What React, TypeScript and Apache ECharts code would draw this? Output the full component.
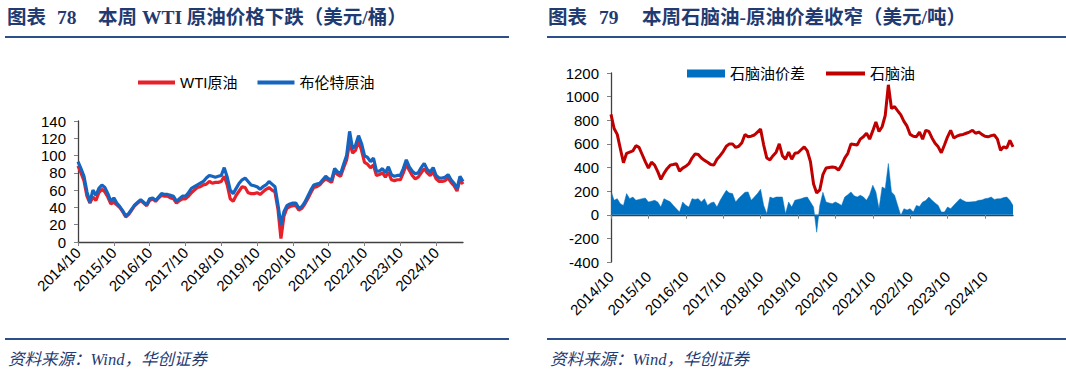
import React, { useEffect, useRef } from "react";
import * as echarts from "echarts";

// Monthly categories, 2014/10 .. 2025/07
const START_YEAR = 2014;
const START_MONTH = 10;
const N_POINTS = 130;
const MONTHS: string[] = [];
{
  let y = START_YEAR;
  let m = START_MONTH;
  for (let i = 0; i < N_POINTS; i++) {
    MONTHS.push(`${y}/${m < 10 ? "0" + m : m}`);
    m++;
    if (m > 12) { m = 1; y++; }
  }
}

// 图表78: WTI 与 布伦特 (美元/桶)
const WTI: number[] = [
  88, 80, 71, 53, 45, 52, 48, 57, 61, 58,
  52, 44, 46, 43, 40, 35, 29, 32, 37, 42,
  45, 48, 45, 42, 48, 50, 47, 51, 54, 53,
  53, 51, 50, 45, 48, 50, 50, 53, 57, 60,
  63, 64, 66, 67, 70, 68, 69, 69, 70, 76,
  66, 50, 47, 54, 59, 64, 63, 57, 56, 56,
  57, 55, 58, 61, 63, 60, 58, 38, 4, 30,
  39, 41, 42, 42, 37, 39, 44, 50, 57, 63,
  64, 66, 70, 73, 71, 69, 82, 78, 76, 86,
  95, 115, 103, 106, 117, 106, 92, 90, 86, 89,
  77, 78, 80, 75, 81, 72, 71, 72, 72, 80,
  90, 83, 77, 73, 75, 80, 85, 80, 77, 81,
  73, 70, 70, 71, 74, 69, 65, 59, 72, 67,
];
const BRENT: number[] = [
  93, 85, 76, 58, 46, 60, 54, 62, 66, 63,
  56, 47, 51, 45, 41, 36, 30, 33, 38, 43,
  46, 49, 46, 43, 50, 51, 48, 52, 56, 55,
  55, 54, 53, 47, 50, 53, 53, 57, 62, 64,
  66, 68, 70, 74, 77, 76, 75, 76, 77, 86,
  75, 60, 56, 62, 68, 72, 74, 70, 66, 65,
  64, 61, 64, 66, 70, 67, 64, 43, 20, 35,
  42, 44, 45, 45, 39, 41, 46, 53, 60, 66,
  67, 68, 72, 76, 73, 72, 85, 81, 79, 90,
  100, 128, 108, 112, 123, 114, 100, 98, 93, 97,
  82, 82, 85, 80, 87, 78, 76, 77, 77, 85,
  95, 87, 82, 79, 80, 86, 91, 84, 81, 86,
  77, 74, 74, 75, 78, 72, 68, 62, 76, 70,
];

// 图表79: 石脑油 与 石脑油价差 (美元/吨)
const NAPHTHA: number[] = [
  850, 730, 680, 560, 440, 520, 530, 540, 585, 570,
  510, 450, 395, 445, 420, 365, 300, 350, 390, 420,
  425, 432, 370, 395, 410, 432, 480, 515, 510, 480,
  460, 445, 425, 420, 470, 500, 535, 580, 600, 600,
  570, 580, 610, 680, 660, 665, 675, 700, 725, 590,
  480, 465, 500, 530, 600, 500, 470, 530, 470, 520,
  525, 550, 575, 540, 450, 260, 185, 210, 340, 395,
  400, 405, 400, 378, 420, 480, 520, 600, 595, 590,
  640, 660, 690, 640, 710, 785, 705, 745, 840, 1100,
  900, 915, 880, 845, 790, 750, 680, 665, 660, 700,
  640, 715, 705, 650, 605, 575, 525, 590, 660, 715,
  650, 665, 675, 680, 690, 700, 715, 690, 700, 680,
  665, 660, 670, 675, 640, 545, 575, 565, 630, 575,
];
const SPREAD: number[] = [
  199, 122, 136, 94, 79, 179, 136, 150, 122, 130,
  136, 142, 108, 115, 122, 108, 65, 136, 122, 110,
  79, 50, 23, 108, 80, 65, 136, 130, 136, 108,
  136, 79, 100, 108, 65, 120, 165, 207, 185, 179,
  108, 140, 165, 190, 193, 122, 150, 179, 216, 79,
  9, 150, 140, 150, 150, 150, 9, 108, 65, 122,
  130, 136, 145, 150, 108, 65, -148, 79, 190, 108,
  100, 94, 108, 95, 79, 150, 170, 193, 160, 150,
  165, 150, 122, 170, 250, 193, 51, 235, 221, 434,
  193, 165, 79, -6, 51, 40, 51, 23, 79, 70,
  108, 120, 150, 122, 100, 79, 23, 23, 65, 51,
  80, 108, 136, 120, 108, 108, 110, 113, 122, 125,
  136, 140, 150, 130, 135, 136, 145, 150, 122, 79,
];

const TITLE_LEFT_A = "图表";
const TITLE_LEFT_NO = "78";
const TITLE_LEFT = "本周 WTI 原油价格下跌（美元/桶）";
const TITLE_RIGHT_A = "图表";
const TITLE_RIGHT_NO = "79";
const TITLE_RIGHT = "本周石脑油-原油价差收窄（美元/吨）";
const SOURCE = "资料来源：Wind，华创证券";

const NAVY = "#1f3b72";
const RULE = "#2b4f8a";
const AXIS_COLOR = "#404040";
const SANS = "Liberation Sans, Arial, Noto Sans CJK SC, sans-serif";
const SERIF = "Liberation Serif, Noto Sans CJK SC, serif";

const titleStyle = (text: string) => ({
  text,
  fontSize: 19.5,
  fontWeight: "bold",
  fontFamily: SERIF,
  fill: NAVY,
  verticalAlign: "middle",
});
const footStyle = (text: string) => ({
  text,
  fontSize: 16.5,
  fontStyle: "italic",
  fontFamily: SERIF,
  fill: NAVY,
  verticalAlign: "middle",
});

export default function App() {
  const ref = useRef<HTMLDivElement>(null);

  useEffect(() => {
    if (!ref.current) return;
    const chart = echarts.init(ref.current, undefined, { renderer: "svg" });

    const axisLine = { show: true, lineStyle: { color: AXIS_COLOR, width: 1.3 } };
    const tickStyle = { color: "#808080", width: 1 };
    const xLabel = {
      interval: 11,
      rotate: 45,
      fontSize: 15,
      color: "#000",
      fontFamily: SANS,
    };

    chart.setOption({
      animation: false,
      grid: [
        { left: 78, top: 121, width: 385, height: 121, containLabel: false },
        { left: 611, top: 73, width: 402, height: 189, containLabel: false },
      ],
      xAxis: [
        {
          type: "category",
          gridIndex: 0,
          data: MONTHS,
          boundaryGap: false,
          axisLine,
          axisTick: { show: true, interval: 11, length: 4, lineStyle: tickStyle },
          axisLabel: { ...xLabel, margin: 8 },
        },
        {
          type: "category",
          gridIndex: 1,
          data: MONTHS,
          boundaryGap: false,
          position: "bottom",
          axisLine: { ...axisLine, onZero: true },
          axisTick: { show: true, interval: 11, length: 4, lineStyle: tickStyle },
          axisLabel: { show: false },
        },
        {
          type: "category",
          gridIndex: 1,
          data: MONTHS,
          boundaryGap: false,
          position: "bottom",
          axisLine: { show: false, onZero: false },
          axisTick: { show: false },
          axisLabel: { ...xLabel, margin: 12 },
        },
      ],
      yAxis: [
        {
          type: "value",
          gridIndex: 0,
          min: 0,
          max: 140,
          interval: 20,
          splitLine: { show: false },
          axisLine,
          axisTick: { show: true, length: 4, lineStyle: tickStyle },
          axisLabel: { fontSize: 15, color: "#000", fontFamily: SANS, margin: 12, formatter: (v: number) => String(v) },
        },
        {
          type: "value",
          gridIndex: 1,
          min: -400,
          max: 1200,
          interval: 200,
          splitLine: { show: false },
          axisLine,
          axisTick: { show: true, length: 4, lineStyle: tickStyle },
          axisLabel: { fontSize: 15, color: "#000", fontFamily: SANS, margin: 12, formatter: (v: number) => String(v) },
        },
      ],
      legend: [
        {
          left: 133,
          top: 70,
          icon: "rect",
          itemWidth: 37,
          itemHeight: 4,
          itemGap: 20,
          data: ["WTI原油", "布伦特原油"],
          textStyle: { fontSize: 15, color: "#000", fontFamily: SANS },
        },
        {
          left: 682,
          top: 61,
          icon: "rect",
          itemWidth: 38,
          itemHeight: 8,
          data: ["石脑油价差"],
          textStyle: { fontSize: 15, color: "#000", fontFamily: SANS },
        },
        {
          left: 821,
          top: 61,
          icon: "rect",
          itemWidth: 39,
          itemHeight: 4,
          data: ["石脑油"],
          textStyle: { fontSize: 15, color: "#000", fontFamily: SANS },
        },
      ],
      series: [
        {
          name: "WTI原油",
          type: "line",
          xAxisIndex: 0,
          yAxisIndex: 0,
          data: WTI,
          showSymbol: false,
          lineStyle: { width: 3.2, color: "#e8202a" },
          itemStyle: { color: "#e8202a" },
        },
        {
          name: "布伦特原油",
          type: "line",
          xAxisIndex: 0,
          yAxisIndex: 0,
          data: BRENT,
          showSymbol: false,
          lineStyle: { width: 3.2, color: "#1565c0" },
          itemStyle: { color: "#1565c0" },
        },
        {
          name: "石脑油价差",
          type: "line",
          xAxisIndex: 1,
          yAxisIndex: 1,
          data: SPREAD,
          showSymbol: false,
          lineStyle: { width: 0.5, color: "#0070c0" },
          areaStyle: { color: "#0070c0", opacity: 1, origin: 0 },
          itemStyle: { color: "#0070c0" },
        },
        {
          name: "石脑油",
          type: "line",
          xAxisIndex: 1,
          yAxisIndex: 1,
          data: NAPHTHA,
          showSymbol: false,
          lineStyle: { width: 3, color: "#c00000" },
          itemStyle: { color: "#c00000" },
        },
      ],
      graphic: [
        { type: "text", x: 7, y: 17, style: titleStyle(TITLE_LEFT_A) },
        { type: "text", x: 57, y: 17, style: titleStyle(TITLE_LEFT_NO) },
        { type: "text", x: 98, y: 17, style: titleStyle(TITLE_LEFT) },
        { type: "text", x: 548, y: 17, style: titleStyle(TITLE_RIGHT_A) },
        { type: "text", x: 599, y: 17, style: titleStyle(TITLE_RIGHT_NO) },
        { type: "text", x: 642, y: 17, style: titleStyle(TITLE_RIGHT) },
        { type: "rect", shape: { x: 5, y: 36, width: 504, height: 2 }, style: { fill: RULE } },
        { type: "rect", shape: { x: 547, y: 36, width: 519, height: 2 }, style: { fill: RULE } },
        { type: "rect", shape: { x: 5, y: 338, width: 504, height: 2 }, style: { fill: RULE } },
        { type: "rect", shape: { x: 547, y: 338, width: 519, height: 2 }, style: { fill: RULE } },
        { type: "text", x: 8, y: 359, style: footStyle(SOURCE) },
        { type: "text", x: 550, y: 359, style: footStyle(SOURCE) },
      ],
    });

    return () => chart.dispose();
  }, []);

  return (
    <div
      ref={ref}
      style={{ position: "absolute", left: 0, top: 0, width: 1066, height: 374 }}
    />
  );
}
